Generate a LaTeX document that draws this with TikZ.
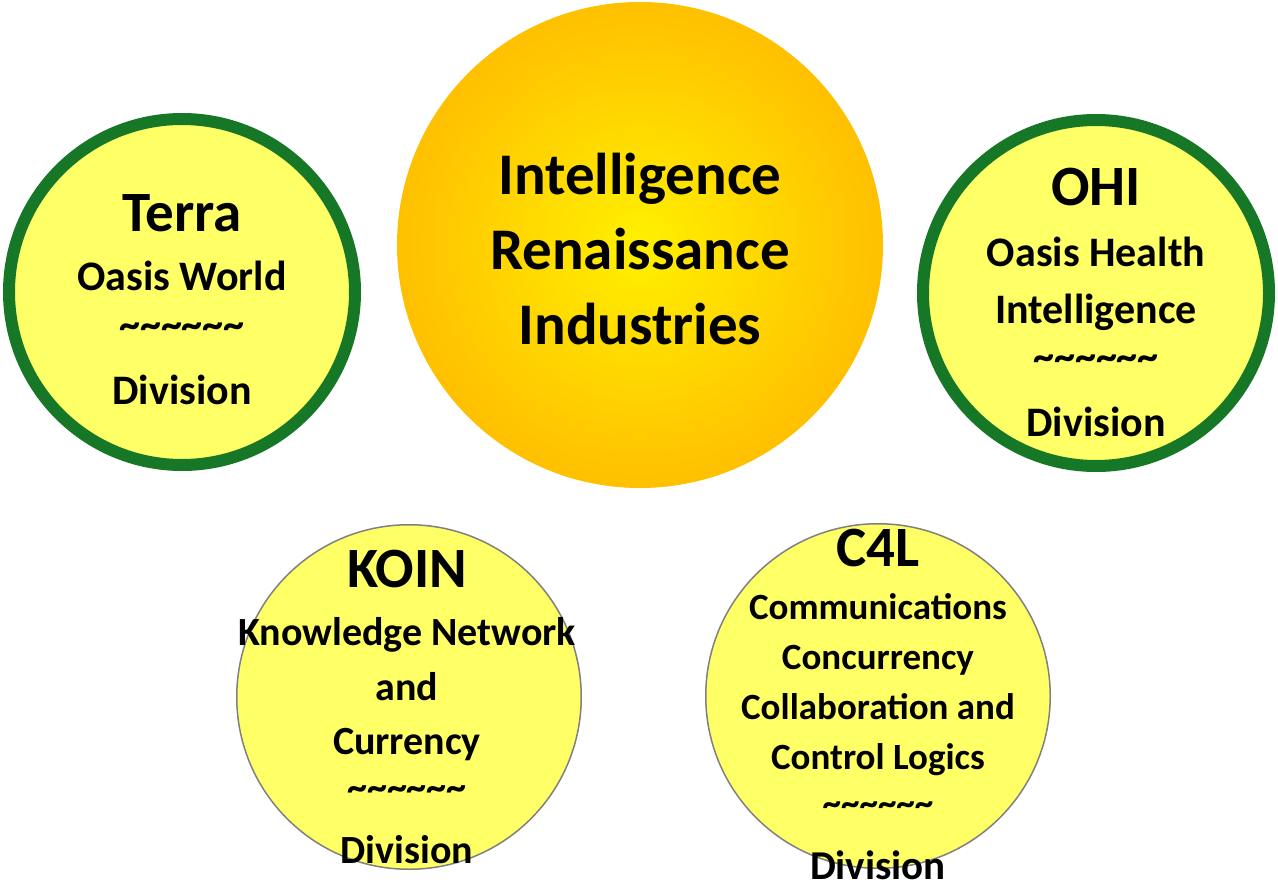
\documentclass[tikz,border=0pt]{standalone}
\usepackage{fontspec}
\setmainfont{Carlito}
\usepackage{xcolor}
\usepackage{tikz}

\definecolor{ringgreen}{RGB}{22,120,38}
\definecolor{paleyellow}{RGB}{255,255,102}
\definecolor{gold}{RGB}{255,192,0}
\definecolor{brightyellow}{RGB}{255,240,0}
\newcommand{\tld}{\raisebox{9pt}{\textasciitilde\textasciitilde\textasciitilde\textasciitilde\textasciitilde\textasciitilde}}
\newcommand{\divhead}[1]{{\fontsize{57}{57}\selectfont #1}}

\begin{document}
\begin{tikzpicture}[x=1pt, y=-1pt,
    sun/.style={circle, draw=gold, line width=2pt, inner color=brightyellow, outer color=gold, minimum size=484pt, inner sep=0pt},
    division/.style={circle, draw=ringgreen, line width=12pt, fill=paleyellow, minimum size=346pt, inner sep=0pt},
    unit/.style={circle, draw=gray, line width=1.5pt, fill=paleyellow, minimum size=344.5pt, inner sep=0pt},
    caption/.style 2 args={anchor=north, align=center, inner sep=0pt, font=\bfseries\fontsize{#1}{#2}\selectfont}]
\useasboundingbox (0,0) rectangle (1278,886);

% circles
\node[sun] (iri) at (640,245) {};
\node[division] (terra) at (182,292) {};
\node[division] (ohi) at (1096,293) {};
\node[unit] (koin) at (409,697) {};
\node[unit] (c4l) at (878,696) {};

% texts
\node[caption={59}{75}] (iri text) at (640,153) {Intelligence\\Renaissance\\Industries};
\node[caption={42}{57}] (terra text) at (182,194) {\divhead{Terra}\\[2pt]Oasis World\\ \tld\\Division};
\node[caption={42}{56.5}] (ohi text) at (1096,168) {\divhead{OHI}\\[4.5pt]Oasis Health\\Intelligence\\ \tld\\Division};
\node[caption={40}{54.5}] (koin text) at (407,550) {\divhead{KOIN}\\[3.5pt]Knowledge Network\\and\\Currency\\ \tld\\Division};
\node[caption={37}{50}] (c4l text) at (878,529) {\divhead{C4L}\\[3pt]Communications\\Concurrency\\Collaboration and\\Control Logics\\[5pt]\tld\\[5pt]{\fontsize{41}{50}\selectfont Division}};

\end{tikzpicture}
\end{document}
